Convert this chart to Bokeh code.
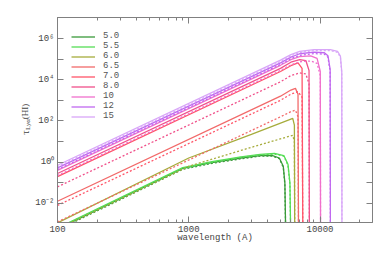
import numpy as np
from bokeh.plotting import figure
from bokeh.models import (LogAxis, FixedTicker, CustomJSTickFormatter, Legend,
                          LegendItem, Label, Range1d)
from bokeh.embed import file_html
from bokeh.resources import INLINE

# ---------------- data ----------------
temps = ["5.0", "5.5", "6.0", "6.5", "7.0", "8.0", "10", "12", "15"]
colors = ["#3a9a3a", "#55dd55", "#a6ac3c", "#f26a6a", "#ff5468",
          "#f0508a", "#f070cc", "#c068f0", "#d8a6f8"]

# wavelength knots (A) and log10 tau for solid / dotted curves
lam_50 = [100, 900, 1500, 2500, 3500, 4300, 4900, 5250, 5400, 5480]
s_50 = [-3.25, -0.3, -0.02, 0.2, 0.32, 0.33, 0.2, -0.2, -1.0, -3.5]
d_50 = [-3.3, -0.35, -0.06, 0.16, 0.29, 0.3, 0.17, -0.25, -1.1, -3.5]

lam_55 = [100, 900, 1500, 2500, 3500, 4500, 5300, 5700, 5900, 5980]
s_55 = [-3.2, -0.27, 0.02, 0.26, 0.38, 0.42, 0.32, -0.1, -1.0, -3.5]
d_55 = [-3.22, -0.3, -0.01, 0.23, 0.35, 0.39, 0.29, -0.15, -1.1, -3.5]

lam_60 = [100, 1000, 3000, 5800, 6200, 6380, 6420]
s_60 = [-2.95, 0.2, 1.35, 2.05, 2.12, 1.8, -3.5]
d_60 = [-3.25, -0.2, 0.72, 1.25, 1.3, 1.0, -3.5]

lam_65 = [100, 5000, 6000, 6500, 6800, 6860]
s_65 = [-1.9, 3.2, 3.5, 3.58, 3.3, -3.5]
d_65 = [-2.9, 2.2, 2.45, 2.52, 2.2, -3.5]

lam_70 = [100, 5000, 6000, 6800, 7300, 7400]
s_70 = [-0.7, 4.4, 4.68, 4.82, 4.55, -3.5]
d_70 = [-2.1, 3.0, 3.3, 3.42, 3.15, -3.5]

lam_80 = [100, 5000, 6000, 7000, 7800, 8250, 8300]
s_80 = [-0.55, 4.55, 4.85, 4.98, 4.93, 4.45, -3.5]
d_80 = [-1.2, 3.9, 4.2, 4.33, 4.28, 3.8, -3.5]

lam_10 = [100, 5000, 6000, 7000, 8500, 9500, 10050, 10100]
s_10 = [-0.4, 4.7, 4.97, 5.12, 5.16, 5.04, 4.4, -3.5]
d_10 = [-0.65, 4.45, 4.72, 4.87, 4.91, 4.79, 4.2, -3.5]

lam_12 = [100, 5000, 6000, 7000, 9000, 10800, 11500, 11950, 12000]
s_12 = [-0.28, 4.82, 5.1, 5.26, 5.34, 5.31, 5.16, 4.5, -3.5]
d_12 = [-0.36, 4.74, 5.02, 5.18, 5.27, 5.24, 5.09, 4.4, -3.5]

lam_15 = [100, 5000, 6000, 7000, 9000, 12000, 13600, 14300, 14650, 14700]
s_15 = [-0.15, 4.95, 5.22, 5.38, 5.46, 5.46, 5.38, 5.15, 4.4, -3.5]
d_15 = [-0.22, 4.88, 5.15, 5.32, 5.41, 5.41, 5.33, 5.1, 4.3, -3.5]

lams = [lam_50, lam_55, lam_60, lam_65, lam_70, lam_80, lam_10, lam_12, lam_15]
solids = [s_50, s_55, s_60, s_65, s_70, s_80, s_10, s_12, s_15]
dotteds = [d_50, d_55, d_60, d_65, d_70, d_80, d_10, d_12, d_15]

x_ticks = [100, 1000, 10000]
x_labels = ["100", "1000", "10000"]
x_minor = [200, 300, 400, 500, 600, 700, 800, 900,
           2000, 3000, 4000, 5000, 6000, 7000, 8000, 9000, 20000]
y_ticks = [1e-2, 1e-1, 1e0, 1e1, 1e2, 1e3, 1e4, 1e5, 1e6]
y_labels = ["10\u207b\u00b2", "", "10\u2070", "", "10\u00b2", "", "10\u2074", "", "10\u2076"]

# ---------------- figure ----------------
FONT = "Liberation Mono"
SERIF = "Liberation Serif"
TXT = "#444444"
GRID = "#808080"

p = figure(x_axis_type="log", y_axis_type="log",
           width=389, height=259,
           x_range=Range1d(100, 10 ** 4.40), y_range=Range1d(10 ** -2.93, 10 ** 7.02),
           output_backend="svg", toolbar_location=None,
           min_border_left=57, min_border_right=17, min_border_top=17, min_border_bottom=37)
p.background_fill_color = "white"
p.border_fill_color = "white"
p.outline_line_color = GRID
p.grid.visible = False

fmt_x = CustomJSTickFormatter(args=dict(t=x_ticks, l=x_labels), code="""
for (let i = 0; i < t.length; i++) { if (Math.abs(Math.log10(tick) - Math.log10(t[i])) < 1e-6) return l[i]; }
return "";""")
fmt_y = CustomJSTickFormatter(args=dict(t=y_ticks, l=y_labels), code="""
for (let i = 0; i < t.length; i++) { if (Math.abs(Math.log10(tick) - Math.log10(t[i])) < 1e-6) return l[i]; }
return "";""")
blank = CustomJSTickFormatter(code="return '';")

xt = FixedTicker(ticks=x_ticks, minor_ticks=x_minor)
yt = FixedTicker(ticks=y_ticks, minor_ticks=[])


def style(ax, labels=True):
    ax.axis_line_color = GRID
    ax.major_tick_line_color = GRID
    ax.minor_tick_line_color = GRID
    ax.major_tick_in = 6
    ax.major_tick_out = 0
    ax.minor_tick_in = 3
    ax.minor_tick_out = 0
    ax.major_label_text_font = FONT
    ax.major_label_text_font_size = "9px" if labels else "0px"
    ax.major_label_text_color = TXT
    if not labels:
        ax.major_label_standoff = 0


xa = p.xaxis[0]
xa.ticker = xt
xa.formatter = fmt_x
style(xa)
xa.major_label_standoff = 3
xa.axis_label = "wavelength (A)"
xa.axis_label_text_font = FONT
xa.axis_label_text_font_size = "9px"
xa.axis_label_text_font_style = "normal"
xa.axis_label_text_color = TXT
xa.axis_label_standoff = -2

ya = p.yaxis[0]
ya.ticker = yt
ya.formatter = fmt_y
style(ya)
ya.major_label_standoff = 3

top = LogAxis(ticker=xt, formatter=blank)
style(top, False)
p.add_layout(top, "above")
right = LogAxis(ticker=yt, formatter=blank)
style(right, False)
p.add_layout(right, "right")

items = []
for name, col, lam, s, d in zip(temps, colors, lams, solids, dotteds):
    lam = np.array(lam, dtype=float)
    r = p.line(lam, 10 ** np.array(s), line_color=col, line_width=1.3)
    p.line(lam, 10 ** np.array(d), line_color=col, line_width=1.3, line_dash="2 2")
    items.append(LegendItem(label=name, renderers=[r]))

leg = Legend(items=items, location="top_left", orientation="vertical")
leg.background_fill_alpha = 0
leg.border_line_alpha = 0
leg.padding = 0
leg.margin = 14
leg.spacing = -1
leg.glyph_width = 24
leg.glyph_height = 9
leg.label_height = 9
leg.label_standoff = 8
leg.label_text_font = FONT
leg.label_text_font_size = "9px"
leg.label_text_line_height = 1.0
leg.label_text_color = "#555555"
leg.label_text_baseline = "middle"
p.add_layout(leg, "center")

# y-axis title: tau with subscript, rotated, in the left side panel
try:
    Label(x=0, y=0, x_units="canvas", y_units="canvas", text="")
    UNITS = "canvas"
    title_parts = [("\u03c4", 24, 132, "11px"),
                   ("Ly\u03b1", 27.5, 124, "7px"),
                   ("(HI)", 24, 111, "9px")]
except Exception:
    UNITS = "screen"
    title_parts = [("\u03c4", -9, 90, "11px"),
                   ("Ly\u03b1", -6, 98, "7px"),
                   ("(HI)", -9, 111, "9px")]

for txt, xx, yy, fs in title_parts:
    p.add_layout(Label(x=xx, y=yy, x_units=UNITS, y_units=UNITS,
                       text=txt, angle=np.pi / 2,
                       text_align="center", text_baseline="middle",
                       text_font=SERIF, text_font_size=fs, text_color=TXT), "left")

open("out.html", "w").write(file_html(p, INLINE))
